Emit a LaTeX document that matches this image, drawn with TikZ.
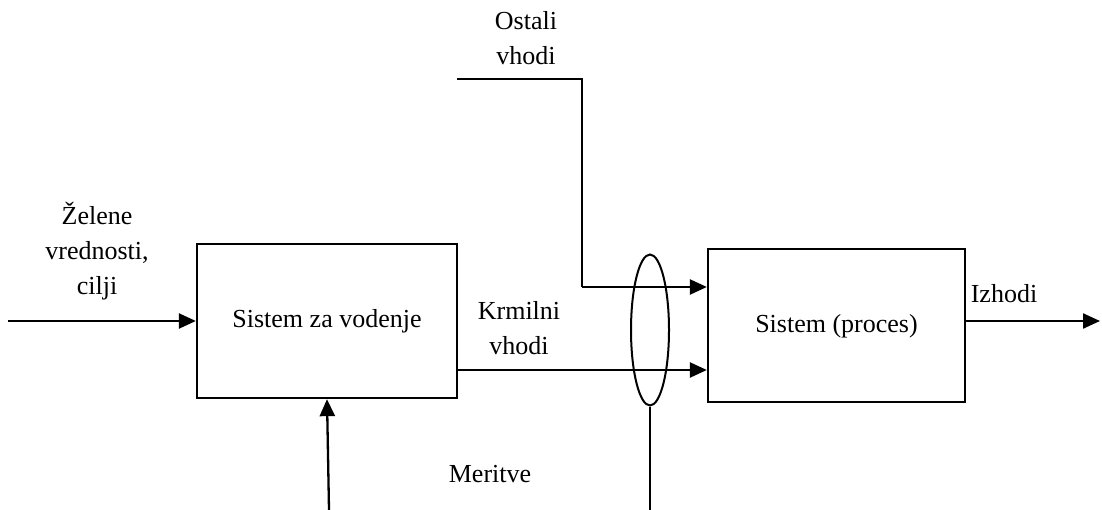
\documentclass[tikz,border=0pt]{standalone}
\usepackage{fontspec}
\setmainfont{Liberation Serif}
\usetikzlibrary{arrows.meta,shapes.geometric}
\begin{document}
\begin{tikzpicture}[x=1pt,y=-1pt,
  block/.style={draw,line width=2.3pt,inner sep=0pt},
  wire/.style={line width=2.3pt},
  sig/.style={wire,-{Triangle[length=17pt,width=15pt]}},
  lbl/.style={font=\fontsize{26}{35}\selectfont,align=center,inner sep=0pt}]
  \useasboundingbox (0,0) rectangle (1102,510);

  % blocks
  \node[block,minimum width=260pt,minimum height=154pt] (ctrl) at (327,321) {};
  \node[lbl] (ctrltxt) at (327,321) {Sistem za vodenje};
  \node[block,minimum width=257pt,minimum height=153pt] (proc) at (836.5,325.5) {};
  \node[lbl] (proctxt) at (836.5,326) {Sistem (proces)};

  % measurement bundle
  \node[draw,ellipse,line width=2pt,minimum width=38pt,minimum height=151pt,inner sep=0pt] (bundle) at (650,330) {};

  % free ends
  \coordinate (refin) at (8,321);
  \coordinate (outend) at (1100,321);
  \coordinate (othstart) at (457,79);
  \coordinate (othcorner) at (582,79);
  \coordinate (othdown) at (582,287);
  \coordinate (measbot) at (650,510);
  \coordinate (fbbot) at (329,510);

  % connectors
  \draw[sig] (refin) -- (ctrl.west |- refin);
  \draw[sig] (proc.east |- outend) -- (outend);
  \draw[wire] (othstart) -- (othcorner) -- (othdown);
  \draw[sig] (othdown) -- (proc.west |- othdown);
  \draw[sig] (ctrl.east |- 0,370) -- (proc.west |- 0,370);
  \draw[wire,line width=2pt] (bundle.south) -- (measbot);
  \draw[sig] (fbbot) -- (ctrl.south);

  % labels
  \node[lbl] (lothers) at (526,38) {Ostali\\vhodi};
  \node[lbl] (lref) at (97,251) {Želene\\vrednosti,\\cilji};
  \node[lbl] (lctrlin) at (519,328) {Krmilni\\vhodi};
  \node[lbl] (lout) at (1004,294) {Izhodi};
  \node[lbl] (lmeas) at (490,474) {Meritve};
\end{tikzpicture}
\end{document}
